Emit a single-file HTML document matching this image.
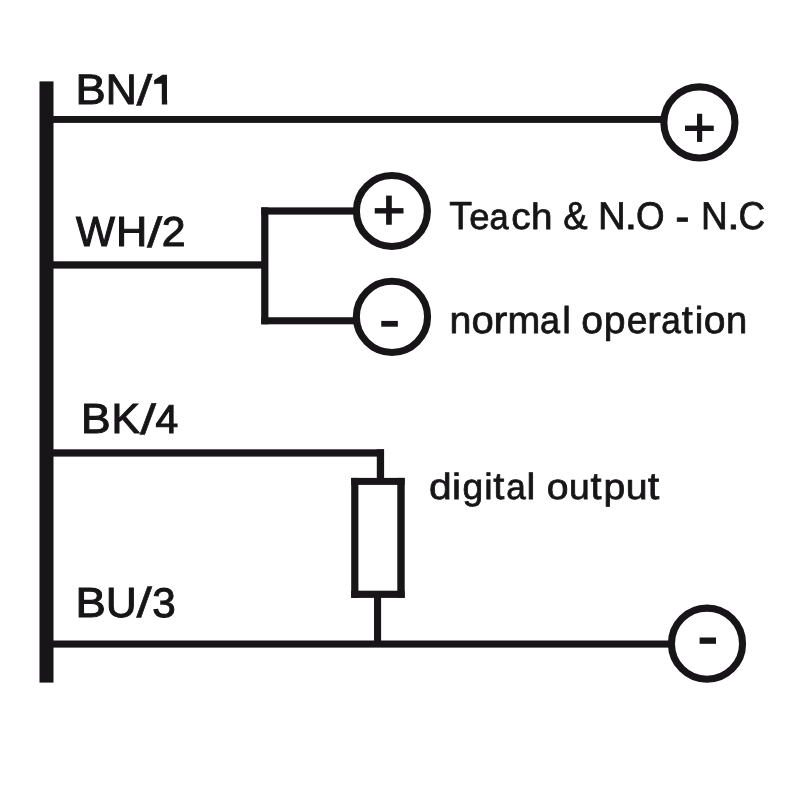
<!DOCTYPE html>
<html>
<head>
<meta charset="utf-8">
<title>Wiring diagram</title>
<style>
html,body{margin:0;padding:0;background:#ffffff;}
body{width:800px;height:800px;overflow:hidden;}
svg{display:block;will-change:transform;}
text{font-family:"Liberation Sans", sans-serif;fill:#171517;stroke:#171517;text-rendering:geometricPrecision;}
tspan{font-family:"Liberation Sans", sans-serif;}
</style>
</head>
<body>
<svg width="800" height="800" viewBox="0 0 800 800">
<defs>
  <clipPath id="nofoot"><path clip-rule="evenodd" d="M0 0H800V800H0Z M146 99.6H161.85V108H146Z M167.15 99.6H184V108H167.15Z"/></clipPath>
</defs>
<g fill="#171517" stroke="none">
  <rect x="39.5" y="81.4" width="14" height="601.2"/>
  <rect x="53" y="116" width="612" height="6.9"/>
  <rect x="53" y="261.3" width="215" height="7.3"/>
  <rect x="261.2" y="207.4" width="7.2" height="116.9"/>
  <rect x="261.2" y="207.4" width="95" height="7.2"/>
  <rect x="261.2" y="317.25" width="95" height="7.05"/>
  <rect x="53" y="449.3" width="331" height="7.3"/>
  <rect x="376.8" y="449.3" width="7.3" height="30"/>
  <rect x="351.2" y="477.9" width="53.5" height="7"/>
  <rect x="351.2" y="590.7" width="53.5" height="7.2"/>
  <rect x="351.2" y="477.9" width="7.2" height="120"/>
  <rect x="397.3" y="477.9" width="7.4" height="120"/>
  <rect x="374" y="596" width="7.1" height="46"/>
  <rect x="53" y="640.5" width="620" height="7.1"/>
</g>
<g fill="#ffffff" stroke="#171517" stroke-width="7.1">
  <circle cx="699.4" cy="122.4" r="35.55"/>
  <circle cx="391.9" cy="211" r="35.5"/>
  <circle cx="391.95" cy="316.85" r="35.6"/>
  <circle cx="707" cy="643.7" r="35.55"/>
</g>
<g fill="#171517" stroke="none">
  <rect x="685" y="125.6" width="28.75" height="5.4"/>
  <rect x="697" y="113.75" width="5.2" height="28.15"/>
  <rect x="374.75" y="208.1" width="28.75" height="5.4"/>
  <rect x="386.1" y="195.6" width="5.7" height="29.15"/>
  <rect x="381.25" y="320.9" width="16.6" height="5.8"/>
  <rect x="699.6" y="637.5" width="16.4" height="6.3"/>
  <path d="M154.2 80.1 C158.6 80 161.9 78.3 162.8 75.1 L162.8 83.8 L154.2 83.8 Z"/>
</g>
<g>
<text stroke-width="1.1" clip-path="url(#nofoot)"><tspan x="75.623" y="104.05" font-size="42.588" textLength="30.179" lengthAdjust="spacingAndGlyphs">B</tspan><tspan x="105.732" y="104.05" font-size="42.588" textLength="31.016" lengthAdjust="spacingAndGlyphs">N</tspan><tspan x="136.632" y="104.831" font-size="42.894" textLength="15.836" lengthAdjust="spacingAndGlyphs" stroke-width="0.5">/</tspan><tspan x="151.107" y="104.1" font-size="41.643" textLength="25.193" lengthAdjust="spacingAndGlyphs">1</tspan></text>
<text stroke-width="1.1"><tspan x="75.956" y="246.35" font-size="42.225" textLength="38.947" lengthAdjust="spacingAndGlyphs">W</tspan><tspan x="115.914" y="246.35" font-size="42.225" textLength="31.251" lengthAdjust="spacingAndGlyphs">H</tspan><tspan x="147.077" y="246.836" font-size="42.349" textLength="15.396" lengthAdjust="spacingAndGlyphs" stroke-width="0.5">/</tspan><tspan x="161.812" y="246.35" font-size="41.819" textLength="23.776" lengthAdjust="spacingAndGlyphs">2</tspan></text>
<text stroke-width="1.1"><tspan x="81.038" y="433.45" font-size="42.007" textLength="29.622" lengthAdjust="spacingAndGlyphs">B</tspan><tspan x="111.57" y="433.45" font-size="42.007" textLength="28.351" lengthAdjust="spacingAndGlyphs">K</tspan><tspan x="140.093" y="434.086" font-size="42.417" textLength="16.164" lengthAdjust="spacingAndGlyphs" stroke-width="0.5">/</tspan><tspan x="155.521" y="433.35" font-size="40.262" textLength="22.718" lengthAdjust="spacingAndGlyphs">4</tspan></text>
<text stroke-width="1.1"><tspan x="75.52" y="616.55" font-size="42.007" textLength="30.279" lengthAdjust="spacingAndGlyphs">B</tspan><tspan x="105.933" y="616.54" font-size="41.992" textLength="30.634" lengthAdjust="spacingAndGlyphs">U</tspan><tspan x="136.58" y="617.238" font-size="42.213" textLength="15.49" lengthAdjust="spacingAndGlyphs" stroke-width="0.5">/</tspan><tspan x="152.303" y="616.546" font-size="41.384" textLength="23.492" lengthAdjust="spacingAndGlyphs">3</tspan></text>
<text stroke-width="0.75"><tspan x="449.318" y="229.4" font-size="39.136" textLength="22.883" lengthAdjust="spacingAndGlyphs">T</tspan><tspan x="469.228" y="229.4" font-size="36.1" textLength="20.316" lengthAdjust="spacingAndGlyphs">e</tspan><tspan x="489.395" y="229.4" font-size="36.1" textLength="19.147" lengthAdjust="spacingAndGlyphs">a</tspan><tspan x="511.146" y="229.4" font-size="37.029" textLength="19.384" lengthAdjust="spacingAndGlyphs">c</tspan><tspan x="531.118" y="229.4" font-size="36.468" textLength="21.495" lengthAdjust="spacingAndGlyphs">h</tspan> <tspan x="563.268" y="229.4" font-size="38.915" textLength="24.35" lengthAdjust="spacingAndGlyphs">&amp;</tspan> <tspan x="598.123" y="229.4" font-size="38.554" textLength="27.735" lengthAdjust="spacingAndGlyphs">N</tspan><tspan x="624.529" y="229.4" font-size="38.575" textLength="12.843" lengthAdjust="spacingAndGlyphs">.</tspan><tspan x="636.117" y="229.4" font-size="38.561" textLength="28.584" lengthAdjust="spacingAndGlyphs">O</tspan> <tspan x="675.333" y="232.01" font-size="46.72" textLength="14.334" lengthAdjust="spacingAndGlyphs">-</tspan> <tspan x="701.02" y="229.4" font-size="38.845" textLength="26.742" lengthAdjust="spacingAndGlyphs">N</tspan><tspan x="727.029" y="229.4" font-size="38.575" textLength="12.843" lengthAdjust="spacingAndGlyphs">.</tspan><tspan x="738.484" y="229.4" font-size="38.848" textLength="26.613" lengthAdjust="spacingAndGlyphs">C</tspan></text>
<text stroke-width="0.75"><tspan x="449.477" y="333.1" font-size="37.773" textLength="21.888" lengthAdjust="spacingAndGlyphs">n</tspan><tspan x="471.413" y="333.1" font-size="38.052" textLength="22.274" lengthAdjust="spacingAndGlyphs">o</tspan><tspan x="493.556" y="333.1" font-size="37.773" textLength="13.821" lengthAdjust="spacingAndGlyphs">r</tspan><tspan x="507.474" y="333.1" font-size="37.773" textLength="32.833" lengthAdjust="spacingAndGlyphs">m</tspan><tspan x="540.026" y="333.1" font-size="38.052" textLength="20.02" lengthAdjust="spacingAndGlyphs">a</tspan><tspan x="562.171" y="333.1" font-size="37.296" textLength="8.64" lengthAdjust="spacingAndGlyphs">l</tspan> <tspan x="581.146" y="333.1" font-size="38.052" textLength="21.709" lengthAdjust="spacingAndGlyphs">o</tspan><tspan x="603.859" y="333.1" font-size="38.086" textLength="21.801" lengthAdjust="spacingAndGlyphs">p</tspan><tspan x="626.686" y="333.1" font-size="38.052" textLength="20.702" lengthAdjust="spacingAndGlyphs">e</tspan><tspan x="647.298" y="333.1" font-size="37.773" textLength="13.574" lengthAdjust="spacingAndGlyphs">r</tspan><tspan x="661.15" y="333.1" font-size="38.052" textLength="19.603" lengthAdjust="spacingAndGlyphs">a</tspan><tspan x="681.779" y="333.1" font-size="39.173" textLength="11.032" lengthAdjust="spacingAndGlyphs">t</tspan><tspan x="694.79" y="333.1" font-size="37.296" textLength="8.64" lengthAdjust="spacingAndGlyphs">i</tspan><tspan x="703.646" y="333.1" font-size="38.052" textLength="21.709" lengthAdjust="spacingAndGlyphs">o</tspan><tspan x="725.941" y="333.1" font-size="37.773" textLength="21.263" lengthAdjust="spacingAndGlyphs">n</tspan></text>
<text stroke-width="0.75"><tspan x="429.107" y="498.8" font-size="36.33" textLength="22.702" lengthAdjust="spacingAndGlyphs">d</tspan><tspan x="452.107" y="498.8" font-size="36.33" textLength="9.007" lengthAdjust="spacingAndGlyphs">i</tspan><tspan x="462.426" y="498.8" font-size="36.012" textLength="20.684" lengthAdjust="spacingAndGlyphs">g</tspan><tspan x="484.263" y="498.8" font-size="36.33" textLength="8.393" lengthAdjust="spacingAndGlyphs">i</tspan><tspan x="493.19" y="498.8" font-size="37.936" textLength="11.108" lengthAdjust="spacingAndGlyphs">t</tspan><tspan x="506.273" y="498.8" font-size="35.914" textLength="19.56" lengthAdjust="spacingAndGlyphs">a</tspan><tspan x="526.639" y="498.8" font-size="36.33" textLength="8.802" lengthAdjust="spacingAndGlyphs">l</tspan> <tspan x="546.665" y="498.8" font-size="35.914" textLength="21.77" lengthAdjust="spacingAndGlyphs">o</tspan><tspan x="569.071" y="498.8" font-size="35.821" textLength="20.712" lengthAdjust="spacingAndGlyphs">u</tspan><tspan x="590.592" y="498.8" font-size="37.936" textLength="11.007" lengthAdjust="spacingAndGlyphs">t</tspan><tspan x="603.588" y="498.8" font-size="35.947" textLength="21.746" lengthAdjust="spacingAndGlyphs">p</tspan><tspan x="625.861" y="498.8" font-size="35.821" textLength="21.835" lengthAdjust="spacingAndGlyphs">u</tspan><tspan x="647.882" y="498.8" font-size="37.936" textLength="11.511" lengthAdjust="spacingAndGlyphs">t</tspan></text>
</g>
</svg>
</body>
</html>
